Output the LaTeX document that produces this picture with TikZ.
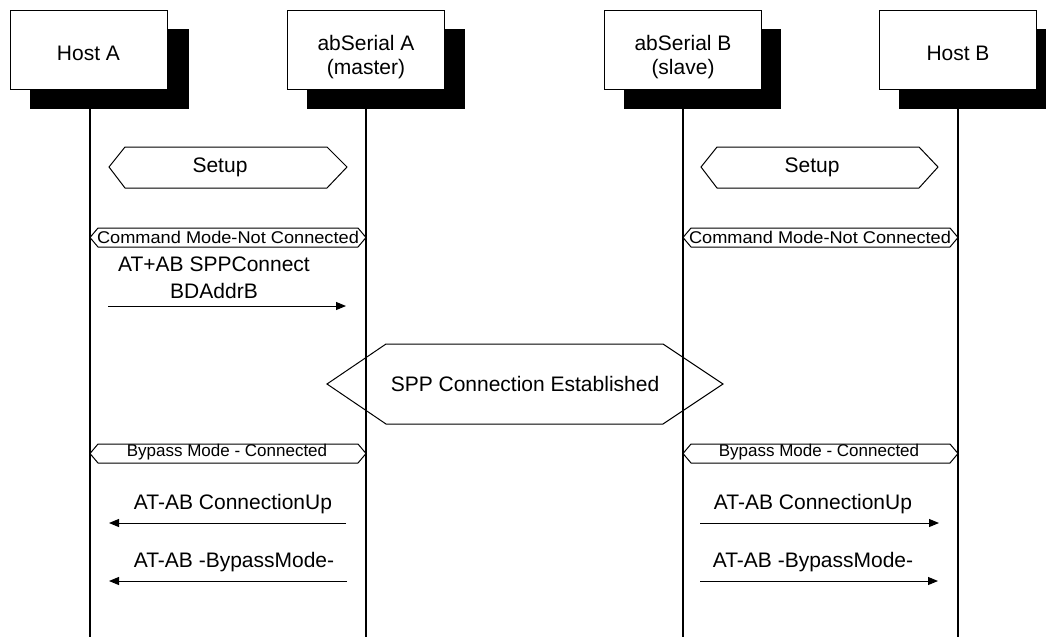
\documentclass[tikz,border=0pt]{standalone}
\usepackage{fontspec}
\setmainfont{Liberation Sans}
\usetikzlibrary{arrows.meta}
\begin{document}
\begin{tikzpicture}[x=1pt,y=-1pt,
  actor/.style={draw=black,line width=1pt,fill=white,minimum width=157pt,minimum height=79pt,align=center},
  shadowbox/.style={fill=black},
  life/.style={line width=1.3pt},
  hexa/.style={draw=black,line width=1pt,fill=white},
  lbl/.style={font=\fontsize{21}{24}\selectfont,align=center,inner sep=0pt},
  small/.style={font=\fontsize{17}{18}\selectfont,inner sep=0pt},
  msg/.style={line width=1pt,-{Triangle[length=10pt,width=8pt]}}
]
\useasboundingbox (0,0) rectangle (1046,637);
% shadows
\fill[shadowbox] (30,29) rectangle (189,109);
\fill[shadowbox] (307,29) rectangle (465,109);
\fill[shadowbox] (624,29) rectangle (781,109);
\fill[shadowbox] (899,29) rectangle (1057,109);
% actors
\node[actor] (ha) at (88.5,49.5) {};
\node[actor] (sa) at (366,49.5) {};
\node[actor] (sb) at (683,49.5) {};
\node[actor] (hb) at (958,49.5) {};
\node[lbl] (hat) at (88.5,53) {Host A};
\node[lbl] (sat) at (366,57) {abSerial A\\(master)};
\node[lbl] (sbt) at (683,57) {abSerial B\\(slave)};
\node[lbl] (hbt) at (958,53) {Host B};
% lifelines
\coordinate (haE) at (90,637);
\coordinate (saE) at (366,637);
\coordinate (sbE) at (683,637);
\coordinate (hbE) at (958,637);
\draw[life] (90,109) -- (haE);
\draw[life] (366,109) -- (saE);
\draw[life] (683,109) -- (sbE);
\draw[life] (958,109) -- (hbE);
% Setup hexagons
\draw[hexa] (109,167) -- (125,147) -- (327,147) -- (347,167) -- (327,188) -- (125,188) -- cycle;
\node[lbl] (setupA) at (220,167) {Setup};
\draw[hexa] (701,167) -- (717,147) -- (919,147) -- (938,167) -- (919,188) -- (717,188) -- cycle;
\node[lbl] (setupB) at (812,167) {Setup};
% Command mode hexagons
\draw[hexa] (90,237.5) -- (98,228) -- (358,228) -- (366,237.5) -- (358,247) -- (98,247) -- cycle;
\node[small,xscale=1.07] (cmA) at (228,237) {Command Mode-Not Connected};
\draw[hexa] (683,237.5) -- (691,228) -- (950,228) -- (958,237.5) -- (950,247) -- (691,247) -- cycle;
\node[small,xscale=1.07] (cmB) at (820,237) {Command Mode-Not Connected};
% SPPConnect message
\node[lbl,font=\fontsize{21}{27}\selectfont] (m1) at (214,278) {AT+AB SPPConnect\\BDAddrB};
\coordinate (m1s) at (108,306);
\coordinate (m1e) at (346,306);
\draw[msg] (m1s) -- (m1e);
% SPP connection established
\draw[hexa] (327,384) -- (386,344) -- (663,344) -- (723,384) -- (663,424) -- (386,424) -- cycle;
\draw[life] (366,350) -- (366,420);
\draw[life] (683,350) -- (683,420);
\node[lbl] (spp) at (525,384) {SPP Connection Established};
% Bypass hexagons
\draw[hexa] (90,453.5) -- (98,444) -- (358,444) -- (366,453.5) -- (358,463) -- (98,463) -- cycle;
\node[small] (bpA) at (227,452) {Bypass Mode - Connected};
\draw[hexa] (683,453.5) -- (691,444) -- (950,444) -- (958,453.5) -- (950,463) -- (691,463) -- cycle;
\node[small] (bpB) at (819,452) {Bypass Mode - Connected};
% Connection up
\node[lbl] (cuA) at (233,504) {AT-AB ConnectionUp};
\coordinate (cuAs) at (346,523);
\coordinate (cuAe) at (109,523);
\draw[msg] (cuAs) -- (cuAe);
\node[lbl] (cuB) at (813,504) {AT-AB ConnectionUp};
\coordinate (cuBs) at (700,523);
\coordinate (cuBe) at (939,523);
\draw[msg] (cuBs) -- (cuBe);
% Bypass mode
\node[lbl] (bmA) at (234,562) {AT-AB -BypassMode-};
\coordinate (bmAs) at (347,581);
\coordinate (bmAe) at (109,581);
\draw[msg] (bmAs) -- (bmAe);
\node[lbl] (bmB) at (813,562) {AT-AB -BypassMode-};
\coordinate (bmBs) at (700,581);
\coordinate (bmBe) at (938,581);
\draw[msg] (bmBs) -- (bmBe);
\end{tikzpicture}
\end{document}
